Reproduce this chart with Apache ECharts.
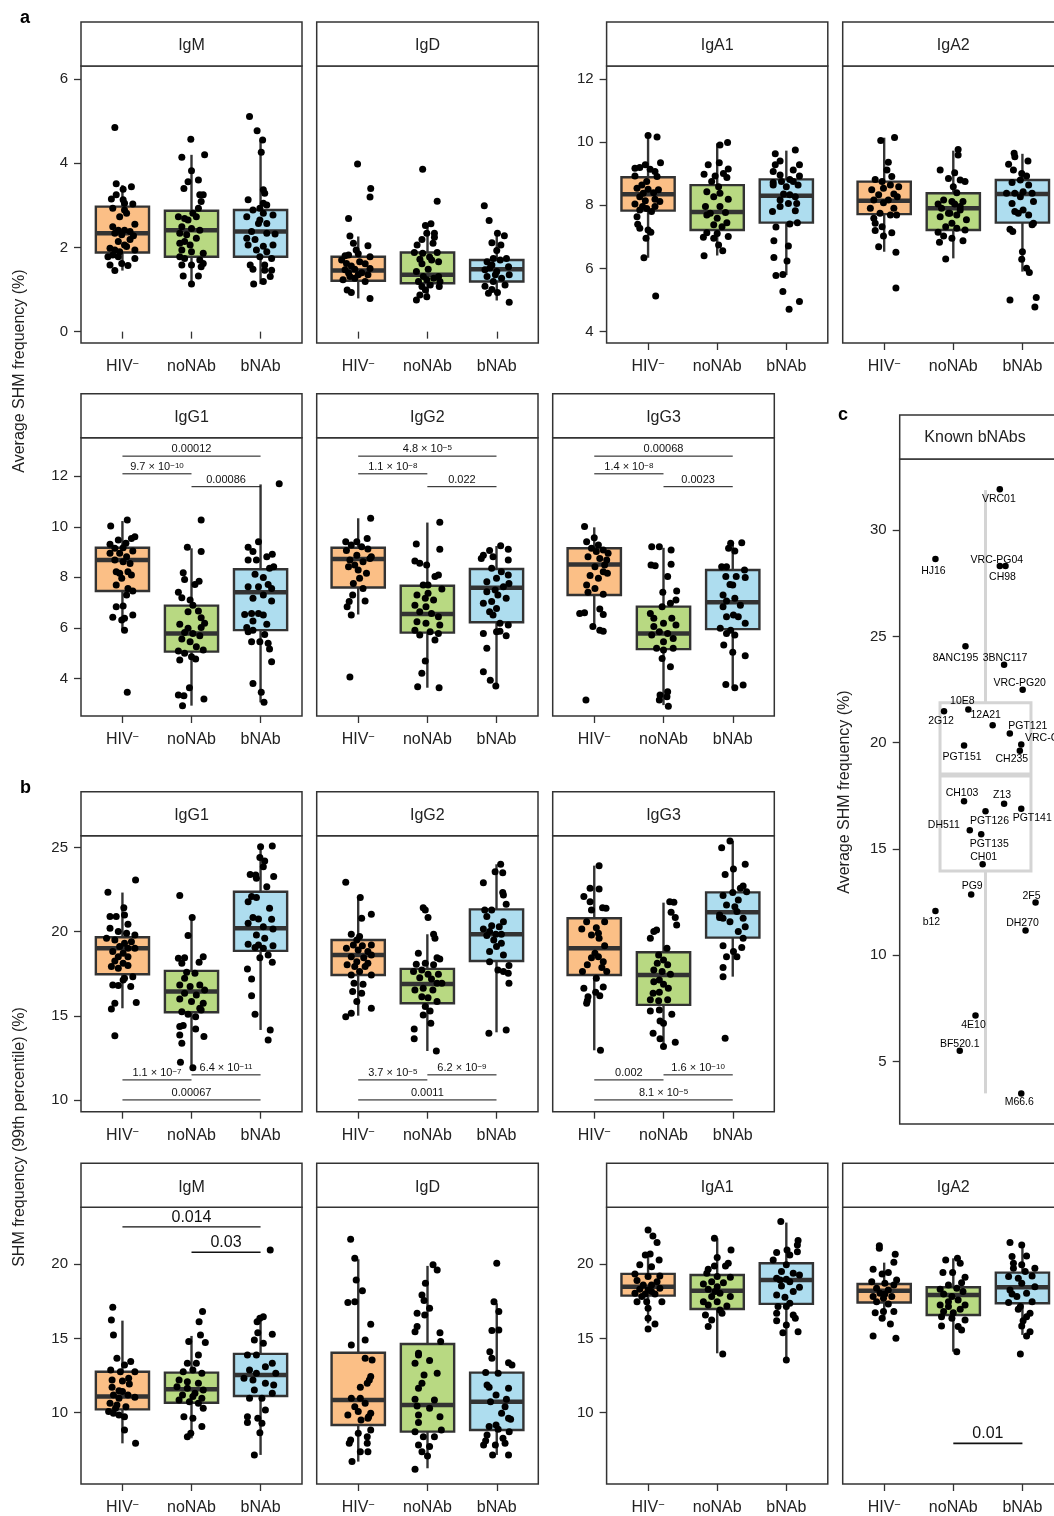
<!DOCTYPE html>
<html><head><meta charset="utf-8">
<script src="https://cdn.jsdelivr.net/npm/echarts@6/dist/echarts.min.js"></script>
<style>html,body{margin:0;padding:0;background:#fff}#c{width:1054px;height:1516px}</style>
</head><body><div id="c"></div>
<script>
// ---------------- DATA ----------------
const GROUPS = ['HIV', 'noNAb', 'bNAb'];
const GROUP_POS = [1, 2, 3];

// tick labels
const TICKS_A_TOP_L = [0, 2, 4, 6];
const TICKS_A_TOP_R = [4, 6, 8, 10, 12];
const TICKS_A_G = [4, 6, 8, 10, 12];
const TICKS_B_G = [10, 15, 20, 25];
const TICKS_B_BOT = [10, 15, 20];
const TICKS_C = [5, 10, 15, 20, 25, 30];

// box stats per group: [lower whisker, Q1, median, Q3, upper whisker]
const aIgM_box = [[1.45,1.88,2.34,2.97,3.48],[1.13,1.78,2.41,2.87,4.20],[1.13,1.78,2.38,2.89,4.55]];
const aIgD_box = [[0.79,1.21,1.45,1.78,2.26],[0.75,1.15,1.35,1.88,2.55],[0.74,1.19,1.48,1.70,2.34]];
const aIgA1_box = [[6.34,7.83,8.35,8.89,10.23],[6.41,7.22,7.79,8.64,9.96],[5.79,7.45,8.30,8.82,9.73]];
const aIgA2_box = [[6.53,7.72,8.14,8.75,10.14],[6.32,7.22,7.91,8.38,9.73],[5.90,7.45,8.36,8.80,9.63]];
const aIgG1_box = [[5.91,7.46,8.69,9.17,10.23],[2.92,5.06,5.78,6.88,9.15],[3.05,5.91,7.41,8.32,11.68]];
const aIgG2_box = [[6.53,7.60,8.73,9.17,10.34],[3.63,5.81,6.55,7.67,10.17],[3.67,6.22,7.59,8.33,9.24]];
const aIgG3_box = [[6.01,7.30,8.51,9.15,9.98],[2.94,5.16,5.78,6.84,9.17],[3.63,5.95,7.01,8.29,9.37]];
const bIgG1_box = [[15.45,17.47,19.02,19.67,22.33],[11.98,15.21,16.44,17.67,20.84],[14.16,18.86,20.21,22.38,25.06]];
const bIgG2_box = [[15.01,17.43,18.62,19.51,21.99],[12.91,15.75,16.90,17.79,19.85],[14.02,18.26,19.85,21.33,24.01]];
const bIgG3_box = [[12.95,17.43,19.02,20.80,23.93],[13.23,15.65,17.43,18.78,21.73],[17.33,19.65,21.16,22.34,25.40]];
const bIgM_box = [[7.93,10.22,11.08,12.76,16.20],[8.27,10.67,11.57,12.70,15.17],[7.15,11.12,12.54,13.96,16.47]];
const bIgD_box = [[6.70,9.17,10.85,14.04,20.34],[6.25,8.72,10.52,14.63,19.89],[7.15,8.83,10.74,12.70,17.37]];
const bIgA1_box = [[16.02,17.89,18.49,19.35,20.52],[14.00,16.99,18.22,19.28,21.75],[13.55,17.33,18.94,20.07,22.81]];
const bIgA2_box = [[16.25,17.42,18.22,18.67,20.11],[14.11,16.58,17.93,18.45,20.40],[15.24,17.37,18.45,19.44,21.30]];

// jittered donors per group: [jitter offset from group position, value]
const aIgM_pts = [
[[-0.11,4.85],[-0.09,3.51],[0.13,3.44],[0.01,3.38],[-0.09,3.25],[-0.16,3.15],[0.01,3.13],[0.03,3.05],[0.15,3.03],[-0.14,2.93],[0.03,2.89],[0.06,2.81],[-0.04,2.73],[-0.14,2.49],[0.18,2.55],[-0.06,2.41],[0.03,2.41],[0.11,2.38],[-0.11,2.34],[-0.01,2.30],[0.16,2.28],[0.11,2.19],[-0.06,2.14],[0.03,2.06],[0.06,2.02],[-0.18,1.98],[-0.11,1.94],[0.18,1.94],[-0.04,1.90],[-0.14,1.82],[-0.21,1.78],[-0.06,1.78],[0.18,1.74],[-0.18,1.58],[-0.01,1.62],[0.08,1.57],[-0.11,1.45]],
[[-0.01,4.57],[-0.14,4.14],[0.19,4.20],[0,3.82],[-0.05,3.56],[0.10,3.60],[-0.11,3.40],[0.17,3.25],[0.12,3.25],[0.14,3.09],[0.10,2.93],[0.02,2.81],[-0.19,2.73],[-0.10,2.69],[-0.05,2.65],[0.07,2.73],[-0.14,2.49],[0,2.45],[0.12,2.41],[-0.17,2.34],[-0.07,2.30],[0.07,2.22],[-0.17,2.10],[-0.10,2.14],[-0.02,2.06],[-0.14,1.94],[0,1.90],[0.17,1.86],[-0.17,1.78],[-0.10,1.74],[0.12,1.70],[-0.14,1.58],[0,1.58],[0.17,1.62],[0.14,1.54],[-0.12,1.32],[0.10,1.32],[0,1.13]],
[[-0.16,5.11],[-0.05,4.77],[0.03,4.55],[0.01,4.26],[0.04,3.37],[0.06,3.29],[-0.18,3.13],[0.04,3.05],[0.09,3.01],[-0.01,2.93],[-0.11,2.89],[0.04,2.81],[0.18,2.77],[-0.20,2.73],[-0.01,2.65],[-0.03,2.57],[0.09,2.57],[-0.13,2.38],[0.09,2.34],[0.21,2.32],[-0.20,2.22],[-0.08,2.19],[-0.18,2.06],[0.04,2.03],[0.18,2.06],[-0.06,1.94],[0.09,1.90],[-0.01,1.78],[0.16,1.74],[-0.15,1.58],[0.06,1.58],[-0.11,1.48],[0.06,1.46],[0.16,1.46],[0.14,1.31],[0.04,1.19],[-0.10,1.13]]];
const aIgD_pts = [
[[-0.01,3.98],[0.18,3.40],[0.17,3.20],[-0.14,2.69],[-0.12,2.27],[-0.07,2.10],[0.14,2.04],[-0.03,1.94],[-0.19,1.80],[-0.14,1.82],[0,1.85],[0.17,1.78],[-0.17,1.62],[0.02,1.66],[-0.10,1.56],[0.10,1.61],[-0.19,1.47],[-0.05,1.48],[0.17,1.50],[-0.14,1.39],[0.05,1.40],[0.14,1.35],[-0.22,1.23],[-0.05,1.27],[0.10,1.19],[-0.16,0.99],[-0.10,0.93],[0.17,0.79],[0,1.35],[-0.12,1.31],[-0.24,1.70]],
[[-0.07,3.86],[0.14,3.10],[-0.03,2.52],[0.05,2.56],[-0.01,2.34],[0.10,2.34],[-0.08,2.19],[0.10,2.24],[-0.15,2.06],[0.08,2.10],[-0.19,1.88],[-0.07,1.86],[0.14,1.88],[-0.11,1.72],[0.03,1.77],[0.16,1.66],[-0.08,1.61],[0.06,1.70],[-0.16,1.43],[0.01,1.48],[-0.06,1.31],[0.16,1.31],[-0.13,1.19],[-0.01,1.23],[0.09,1.27],[0.18,1.19],[-0.08,1.07],[0.04,1.11],[0.17,1.07],[-0.03,0.99],[-0.11,0.87],[-0.01,0.83],[-0.16,0.75]],
[[-0.18,2.99],[-0.11,2.64],[0.01,2.34],[0.11,2.28],[-0.07,2.11],[0.06,2.06],[0,1.93],[-0.05,1.74],[-0.14,1.66],[0.14,1.74],[0.05,1.70],[-0.07,1.58],[0.17,1.54],[-0.17,1.47],[0,1.43],[0.18,1.35],[-0.14,1.31],[0.07,1.27],[-0.05,1.19],[-0.17,1.08],[0.12,1.11],[-0.07,1.00],[-0.12,0.91],[0.01,0.93],[0.18,0.70],[-0.02,1.35],[-0.10,1.51]]];
const aIgA1_pts = [
[[0,10.21],[0.13,10.16],[0.18,9.35],[-0.19,9.17],[-0.12,9.20],[-0.04,9.28],[0.03,9.14],[0.10,9.07],[-0.19,8.93],[0.13,8.91],[-0.02,8.75],[-0.09,8.64],[-0.16,8.54],[0,8.51],[0.15,8.49],[-0.07,8.38],[0.08,8.40],[0.17,8.12],[-0.12,8.27],[-0.19,8.04],[-0.04,8.14],[0.10,8.19],[-0.02,7.90],[-0.08,7.96],[0.10,7.96],[0.05,7.80],[-0.16,7.64],[-0.15,7.40],[-0.12,7.27],[0,7.22],[0.04,7.15],[-0.03,6.96],[-0.06,6.34],[0.11,5.13],[-0.12,7.85]],
[[0.15,9.99],[0.04,9.91],[0.03,9.35],[-0.13,9.28],[0.16,9.15],[0.09,9.01],[-0.19,8.98],[-0.03,8.93],[0.14,8.88],[-0.08,8.75],[0.02,8.59],[-0.15,8.43],[0.04,8.38],[0.16,8.19],[-0.05,8.27],[-0.17,7.96],[0.04,7.96],[-0.10,7.75],[0.12,7.77],[-0.15,7.69],[0,7.59],[0.14,7.45],[-0.05,7.38],[0.07,7.32],[-0.15,7.13],[0,7.11],[0.16,7.01],[-0.20,6.99],[-0.05,6.96],[0.02,6.74],[0.08,6.56],[-0.19,6.40]],
[[0.13,9.75],[-0.16,9.63],[-0.09,9.40],[-0.16,9.28],[0.19,9.28],[0.10,9.12],[-0.19,9.07],[-0.09,8.96],[0.19,8.93],[0.05,8.82],[-0.19,8.72],[-0.07,8.75],[0.10,8.75],[0.17,8.64],[0,8.59],[-0.19,8.64],[0.05,8.33],[-0.04,8.36],[0.13,8.27],[-0.09,8.17],[0.03,8.06],[0.15,8.06],[-0.09,7.96],[0.13,7.83],[-0.20,7.80],[0.05,7.41],[0.16,7.45],[-0.15,7.31],[-0.18,6.88],[0.03,6.71],[-0.18,6.35],[0.01,6.24],[-0.15,5.78],[-0.05,5.81],[-0.05,5.27],[0.04,4.71],[0.19,4.95]]];
const aIgA2_pts = [
[[0.15,10.15],[-0.05,10.05],[0.06,9.36],[0.04,9.12],[0.11,8.91],[-0.13,8.82],[-0.03,8.75],[0.09,8.64],[0.21,8.59],[-0.18,8.49],[-0.01,8.54],[0.14,8.36],[-0.08,8.33],[0.06,8.17],[0.19,8.27],[-0.15,8.17],[-0.01,8.08],[-0.20,7.91],[0.14,7.91],[-0.06,7.75],[0.09,7.69],[0.18,7.69],[-0.15,7.59],[-0.13,7.43],[-0.03,7.32],[-0.13,7.20],[0.11,7.13],[-0.01,7.03],[-0.08,6.69],[0.17,6.51],[0.17,5.38]],
[[0.07,9.77],[0.07,9.59],[-0.19,9.12],[0.02,9.03],[-0.07,8.85],[0.10,8.80],[0.17,8.75],[0,8.59],[0.05,8.40],[-0.14,8.17],[-0.02,8.12],[0.14,8.12],[-0.22,8.04],[0.02,8.04],[-0.17,7.91],[0.10,7.85],[-0.07,7.75],[0.05,7.69],[-0.19,7.64],[0.19,7.54],[-0.02,7.43],[-0.11,7.32],[0.05,7.27],[-0.22,7.15],[0.17,7.22],[-0.14,7.03],[-0.02,6.96],[0.14,6.88],[-0.20,6.83],[-0.11,6.30],[-0.05,7.75],[0.10,7.96]],
[[-0.12,9.65],[-0.11,9.54],[0.08,9.40],[-0.20,9.30],[-0.13,9.12],[-0.01,9.01],[0.06,8.93],[-0.03,8.80],[-0.15,8.72],[0.09,8.64],[-0.11,8.38],[0.01,8.43],[0.14,8.38],[-0.03,8.27],[-0.15,8.06],[0.16,8.12],[0.01,7.85],[-0.11,7.80],[0.09,7.69],[-0.06,7.75],[0.14,7.38],[-0.18,7.24],[-0.14,7.17],[0,6.53],[-0.01,6.29],[0.06,6.01],[0.10,5.87],[-0.18,5.00],[0.20,5.08],[0.18,4.78],[0.16,7.43],[-0.23,8.38]]];
const aIgG1_pts = [
[[0.07,10.27],[-0.17,10.03],[0.18,9.61],[0.13,9.54],[-0.18,9.31],[-0.06,9.48],[0.05,9.35],[-0.11,9.15],[0.01,9.17],[0.15,9.04],[-0.18,8.95],[-0.04,8.95],[0.06,8.82],[-0.11,8.69],[0.01,8.62],[0.11,8.55],[-0.09,8.22],[-0.04,8.16],[0.08,8.22],[0.13,8.09],[-0.01,7.96],[-0.09,7.70],[0.08,7.56],[0.15,7.46],[0.06,7.30],[-0.09,6.84],[0.01,6.87],[-0.14,6.42],[0.15,6.51],[-0.01,6.31],[0.03,6.38],[0.03,5.91],[0.07,3.45]],
[[0.14,10.27],[-0.06,9.19],[0.14,9.02],[-0.12,8.18],[-0.10,7.92],[0.11,7.85],[0.05,7.72],[-0.19,7.41],[-0.14,7.19],[-0.02,7.10],[0.02,6.90],[0.10,6.67],[-0.05,6.64],[0.14,6.40],[0.19,6.18],[-0.17,6.14],[0.14,6.01],[-0.10,5.82],[0.02,5.78],[0.12,5.69],[-0.14,5.56],[-0.02,5.45],[0.07,5.25],[0.17,5.12],[-0.19,5.08],[-0.10,4.99],[0,4.86],[-0.17,4.73],[0.06,4.77],[-0.03,3.63],[-0.19,3.34],[-0.11,3.31],[0.18,3.18],[-0.13,2.92],[-0.05,5.98]],
[[0.27,11.71],[-0.03,9.41],[-0.18,9.19],[-0.11,9.02],[0.17,8.91],[0.09,8.82],[-0.18,8.69],[-0.06,8.69],[0.19,8.42],[0.13,8.36],[-0.08,8.12],[0.04,7.99],[-0.18,7.63],[-0.03,7.63],[0.11,7.72],[0.16,7.56],[0.04,7.30],[-0.11,7.17],[0.16,7.06],[-0.23,6.53],[-0.03,6.57],[-0.13,6.57],[0.04,6.51],[-0.11,6.27],[0.09,6.14],[-0.20,6.01],[-0.11,5.91],[0.06,5.74],[-0.13,5.45],[-0.01,5.45],[0.11,5.39],[0.13,5.16],[0.16,4.66],[-0.11,3.80],[0.01,3.45],[0.05,3.05],[-0.18,5.85]]];
const aIgG2_pts = [
[[0.18,10.34],[0.13,9.54],[-0.18,9.41],[-0.02,9.41],[-0.10,9.28],[0.05,9.21],[0.14,9.12],[-0.17,9.06],[-0.02,8.88],[0.19,8.82],[-0.12,8.69],[0.07,8.62],[-0.14,8.42],[-0.05,8.49],[0,8.29],[0.12,8.16],[0.02,7.96],[-0.07,7.76],[0.07,7.56],[-0.08,7.30],[-0.13,7.04],[0.10,7.06],[-0.16,6.84],[-0.10,6.51],[-0.12,4.05],[0.17,8.75]],
[[0.18,10.18],[-0.16,9.32],[0.18,9.11],[-0.18,8.65],[-0.11,8.56],[-0.01,8.49],[0.16,8.09],[0.11,8.03],[-0.06,7.70],[0.01,7.70],[0.21,7.54],[-0.15,7.30],[-0.03,7.17],[0.09,7.10],[-0.18,6.90],[-0.02,6.84],[-0.11,6.64],[0.06,6.57],[0.16,6.44],[-0.15,6.24],[-0.02,6.18],[0.18,6.11],[-0.18,5.91],[0.04,5.85],[0.16,5.78],[-0.11,5.72],[0.11,5.52],[-0.03,4.69],[-0.08,4.20],[-0.14,3.67],[0.17,3.63],[0.01,7.37]],
[[0.06,9.25],[-0.10,9.06],[0.17,9.11],[-0.19,8.88],[-0.05,8.82],[0.17,8.69],[-0.22,8.75],[-0.07,8.36],[0.07,8.22],[0.17,8.09],[0,7.96],[-0.14,7.83],[0.18,7.76],[0.10,7.63],[-0.02,7.50],[-0.14,7.43],[0.02,7.30],[0.14,7.17],[-0.07,7.04],[-0.19,6.97],[0,6.77],[-0.10,6.64],[-0.05,6.51],[0.05,6.18],[0.17,6.11],[-0.19,5.78],[0,5.85],[0.05,5.87],[0.14,5.69],[-0.14,5.19],[-0.19,4.26],[-0.09,3.93],[-0.01,3.70]]];
const aIgG3_pts = [
[[-0.14,10.01],[0,9.57],[-0.11,9.41],[0.06,9.28],[-0.04,9.15],[0.13,9.08],[0.20,8.95],[0.03,9.02],[-0.09,8.82],[0.08,8.75],[0.18,8.69],[0.01,8.42],[0.13,8.22],[-0.06,8.07],[0.19,8.16],[0.06,7.96],[-0.11,7.70],[0.01,7.56],[-0.09,7.41],[0.13,7.33],[0.08,6.75],[0.13,6.53],[-0.21,6.57],[-0.14,6.60],[-0.02,6.05],[0.08,5.91],[0.13,5.87],[-0.12,3.14],[0.15,8.49]],
[[-0.17,9.21],[-0.06,9.21],[0.11,9.08],[-0.18,8.49],[-0.12,8.46],[0.11,8.52],[0.06,8.03],[-0.01,7.41],[0.19,7.46],[0.18,7.10],[0.10,6.97],[-0.19,6.57],[-0.02,6.84],[-0.14,6.38],[0.12,6.38],[0,6.18],[0.18,6.11],[-0.14,6.05],[-0.06,5.85],[0.06,5.78],[-0.17,5.72],[0.14,5.58],[-0.10,5.19],[0,5.12],[0.14,5.19],[-0.02,4.79],[0.10,4.46],[0.06,3.47],[-0.05,3.34],[0.05,3.27],[-0.06,3.14],[0.07,2.90],[0,5.45]],
[[-0.03,9.35],[0.13,9.37],[-0.06,9.15],[0.03,9.04],[-0.16,8.42],[-0.09,8.42],[0.17,8.29],[-0.10,8.03],[0.05,8.03],[0.18,7.99],[-0.04,7.72],[0,7.70],[-0.14,7.30],[0.03,7.17],[-0.09,7.06],[0.11,6.90],[0.01,6.51],[-0.09,6.44],[0.08,6.44],[0.18,6.18],[-0.18,5.98],[-0.03,5.91],[-0.09,5.78],[0.03,5.72],[-0.13,5.32],[0,5.03],[0.18,4.90],[-0.10,3.76],[0.03,3.63],[0.15,3.74],[-0.14,6.84]]];
const bIgG1_pts = [
[[0.19,23.08],[-0.21,22.35],[0.02,21.43],[0.03,20.99],[-0.18,20.90],[-0.09,20.90],[0.08,20.44],[-0.18,20.20],[-0.06,20.01],[0.06,19.91],[0.18,19.81],[-0.23,19.61],[-0.11,19.51],[0.03,19.31],[0.13,19.41],[-0.04,19.12],[0.08,19.02],[0.18,19.02],[-0.14,18.82],[0.01,18.72],[-0.06,18.52],[0.08,18.52],[-0.11,18.26],[0.01,18.12],[-0.16,17.93],[0.08,17.99],[-0.06,17.83],[0.15,17.33],[0.03,17.23],[-0.14,16.84],[-0.06,16.80],[0.12,16.74],[0.01,17.13],[-0.11,15.75],[0.20,15.79],[-0.16,15.41],[-0.11,13.81]],
[[-0.17,22.15],[0.01,20.84],[-0.05,19.77],[-0.19,18.42],[-0.10,18.46],[0.17,18.52],[-0.14,18.12],[0.11,18.18],[-0.07,17.59],[0.05,17.53],[-0.10,17.23],[-0.17,16.84],[-0.02,16.74],[0.12,16.84],[0.19,16.54],[-0.10,16.34],[0.07,16.24],[-0.17,16.00],[0,15.85],[0.17,15.75],[-0.14,15.25],[0.12,15.45],[-0.05,15.09],[0.06,14.95],[-0.17,14.36],[-0.12,14.42],[0.06,14.22],[0.18,13.77],[-0.17,13.86],[-0.14,13.37],[-0.16,12.24],[0.02,11.92],[0.14,15.35]],
[[0.17,25.10],[0,25.06],[0.06,24.21],[-0.01,24.41],[0.04,23.87],[-0.15,23.41],[-0.07,23.38],[0.19,23.28],[-0.06,23.18],[0.09,22.68],[-0.13,22.09],[-0.06,22.03],[-0.18,21.79],[0.13,21.39],[-0.11,20.84],[-0.03,20.76],[0.16,20.74],[-0.18,20.50],[0.04,20.30],[0.18,20.17],[-0.06,19.81],[0.06,19.61],[-0.18,19.25],[-0.08,19.06],[0.18,19.17],[0.04,19.02],[0.11,18.62],[-0.01,18.46],[0.17,18.18],[-0.19,17.79],[-0.13,17.19],[-0.13,16.20],[-0.08,15.09],[0.14,14.16],[0.11,13.57],[-0.03,19.21]]];
const bIgG2_pts = [
[[-0.18,22.94],[0.03,22.03],[0.19,21.04],[0.05,20.80],[-0.10,19.85],[0.02,19.71],[-0.02,19.51],[-0.07,19.21],[0.06,19.17],[0.19,19.21],[-0.17,19.02],[0,18.92],[0.14,18.82],[-0.10,18.52],[0.08,18.46],[0.19,18.62],[-0.02,18.22],[-0.16,18.03],[-0.05,17.93],[0.10,17.93],[0.02,17.63],[-0.10,17.43],[0.19,17.43],[-0.06,16.94],[0.07,16.88],[-0.08,16.44],[0.05,16.34],[-0.02,15.85],[0.19,15.45],[-0.18,14.95],[-0.10,15.15],[0.14,18.12]],
[[-0.06,21.43],[-0.03,21.29],[0.01,20.84],[0.09,19.85],[0.11,19.61],[-0.13,18.72],[0.14,18.46],[0.18,18.38],[-0.03,18.12],[-0.16,18.07],[0.09,18.03],[-0.20,17.63],[-0.08,17.73],[0.01,17.47],[0.16,17.47],[-0.11,17.27],[0.06,17.19],[0.14,16.94],[-0.18,16.54],[-0.06,16.64],[0.08,16.54],[-0.08,16.14],[0.01,16.08],[0.14,15.85],[-0.03,15.55],[0.04,15.29],[-0.06,15.05],[0.05,14.56],[-0.19,14.22],[-0.19,13.63],[0.13,12.91],[0.21,16.94]],
[[0.06,24.01],[-0.02,23.57],[0.09,23.51],[-0.19,22.92],[0.09,22.34],[0.10,22.19],[0.14,21.63],[-0.17,21.29],[-0.07,21.29],[-0.14,20.90],[0.10,20.60],[-0.07,20.36],[0.04,20.30],[-0.19,20.17],[-0.10,20.01],[-0.01,19.85],[0.07,19.85],[-0.14,19.77],[-0.04,19.51],[0.07,19.31],[0,19.12],[-0.10,18.82],[0.10,18.62],[-0.10,18.22],[0.02,17.73],[0.10,17.63],[0.18,17.99],[0.17,17.53],[0.18,16.94],[-0.11,13.96],[0.14,14.16]]];
const bIgG3_pts = [
[[0.07,23.93],[-0.06,22.58],[0.07,22.54],[-0.15,22.09],[-0.06,21.79],[-0.04,21.29],[0.12,21.43],[0.17,21.39],[-0.11,20.60],[0.15,20.60],[0.03,20.24],[-0.18,20.17],[0.06,19.91],[-0.04,19.81],[0.07,19.61],[0.15,19.17],[0.01,18.72],[0.06,18.52],[-0.04,18.46],[0.13,18.22],[-0.10,18.03],[0.11,17.87],[0.18,17.63],[-0.17,17.63],[0.03,17.23],[0.13,16.72],[-0.15,16.64],[0.02,16.40],[-0.09,16.14],[0.08,16.20],[-0.11,15.75],[-0.10,15.89],[0.09,12.95]],
[[0.09,21.79],[0.15,21.75],[0.11,21.16],[0.17,20.84],[0.19,20.40],[-0.10,20.11],[-0.14,20.01],[-0.19,19.61],[0.05,19.02],[-0.07,18.62],[0,18.32],[0.06,18.03],[-0.09,18.12],[-0.14,17.73],[-0.02,17.63],[0.10,17.47],[-0.06,17.13],[-0.14,17.03],[0,16.88],[-0.15,16.34],[-0.06,16.40],[0.07,16.64],[-0.19,15.95],[-0.07,15.89],[0.06,15.95],[-0.19,15.29],[-0.06,15.35],[0.12,15.09],[-0.05,14.70],[0,14.56],[-0.15,13.96],[-0.05,13.63],[0.17,13.43],[0,13.17]],
[[-0.04,25.40],[-0.16,25.00],[0.18,24.01],[0.01,23.73],[-0.11,23.41],[0.15,22.72],[0.11,22.58],[-0.14,22.15],[0,22.34],[0.20,22.38],[0.08,21.89],[-0.09,21.59],[0.03,21.49],[-0.19,21.00],[-0.14,20.80],[0.15,20.80],[0.06,21.20],[-0.04,20.60],[0.18,20.30],[0.08,20.01],[0.15,19.61],[-0.14,19.17],[0.13,19.06],[0.01,18.82],[-0.09,18.52],[0.06,18.52],[-0.14,17.87],[-0.14,17.33],[-0.11,13.67],[-0.19,20.84]]];
const bIgM_pts = [
[[-0.14,17.10],[-0.16,16.25],[-0.13,15.24],[-0.08,13.66],[0.12,13.44],[0.03,13.21],[-0.17,12.88],[-0.03,12.76],[0.18,12.76],[0.09,12.31],[-0.15,12.20],[0,12.13],[0.10,11.93],[-0.15,11.71],[-0.05,11.48],[-0.13,11.19],[0.08,11.19],[0.18,11.03],[-0.05,10.97],[-0.18,10.63],[-0.08,10.52],[0.05,10.40],[-0.20,10.07],[-0.13,9.96],[-0.05,9.84],[0.03,9.73],[0.03,8.83],[0.19,7.93],[-0.10,10.29],[0,11.42]],
[[0.16,16.81],[0.11,16.13],[0.13,15.24],[-0.04,14.79],[0.20,14.72],[0.10,13.89],[-0.06,13.33],[0.07,13.33],[-0.12,12.76],[0.02,12.88],[0.15,12.65],[-0.18,12.20],[-0.06,12.09],[0.10,11.98],[-0.21,11.75],[-0.06,11.64],[0.17,11.53],[-0.13,11.19],[0.02,11.08],[0.15,10.97],[-0.18,10.85],[-0.03,10.74],[0.10,10.63],[0.17,10.29],[-0.11,9.73],[0.02,9.62],[0.15,9.06],[-0.06,8.38],[-0.01,8.61],[0.05,11.30]],
[[0.14,20.97],[0.04,16.47],[-0.01,16.36],[-0.05,16.13],[0.17,15.28],[-0.04,15.39],[-0.09,14.90],[0.04,14.67],[-0.19,13.89],[-0.06,13.89],[0.07,13.10],[0.17,13.33],[-0.16,12.88],[-0.06,12.65],[-0.24,12.31],[0.22,12.65],[-0.11,12.20],[0.07,11.98],[-0.09,11.53],[0.17,11.30],[-0.16,10.97],[0.02,10.97],[0.07,10.18],[-0.19,9.73],[-0.04,9.62],[-0.19,9.33],[0.02,9.28],[-0.01,8.65],[-0.09,7.15],[0.19,11.87]]];
const bIgD_pts = [
[[-0.11,21.69],[-0.05,20.40],[-0.03,18.94],[0.06,18.22],[-0.15,17.42],[-0.05,17.48],[0.18,15.96],[-0.10,14.56],[0.10,14.90],[0.10,13.66],[0.20,13.55],[0.18,12.43],[0.16,12.20],[0.13,11.98],[0.03,11.71],[-0.10,10.97],[0.03,10.97],[-0.05,10.40],[0.10,10.63],[-0.15,9.84],[0,10.07],[0.18,9.96],[0.04,9.51],[0.14,9.62],[0.18,8.83],[0,8.61],[0.13,8.38],[-0.11,8.16],[-0.13,7.93],[0.13,7.93],[0.03,7.37],[0.14,7.37],[-0.09,6.70],[0.15,9.73]],
[[0.08,19.96],[0.14,19.62],[-0.03,18.72],[-0.08,17.93],[-0.05,17.55],[0.03,17.03],[-0.15,16.70],[-0.04,16.58],[-0.15,15.80],[0.18,15.39],[-0.18,15.46],[0.19,14.79],[-0.13,14.00],[-0.13,13.89],[0.03,13.51],[-0.18,13.33],[-0.05,12.54],[0.14,12.65],[-0.13,11.64],[-0.08,11.98],[-0.18,10.90],[0.10,10.85],[0.03,10.29],[-0.15,10.45],[-0.13,9.84],[0.18,9.73],[-0.13,9.33],[0.20,8.83],[-0.18,8.72],[-0.06,8.38],[-0.13,7.82],[0.03,7.71],[-0.08,7.37],[0,7.08],[-0.18,6.18],[0.10,8.38]],
[[0,20.07],[-0.04,17.48],[0.03,16.81],[-0.07,15.53],[0.03,15.57],[-0.10,14.11],[-0.07,13.66],[0.17,13.37],[0.22,13.21],[-0.16,12.70],[0.02,12.65],[-0.14,11.87],[-0.11,11.71],[0.17,11.64],[-0.01,11.19],[0.14,10.90],[-0.09,10.74],[0.12,10.40],[0.07,9.96],[0.17,9.62],[0.20,9.55],[-0.01,9.17],[-0.11,9.06],[0.18,8.72],[0.02,8.88],[-0.14,8.49],[-0.16,8.11],[0.09,8.27],[-0.19,7.82],[-0.02,7.82],[0.12,7.93],[-0.06,7.15],[0.17,7.15]]];
const bIgA1_pts = [
[[0,22.31],[0.07,21.91],[0.13,21.46],[-0.04,20.63],[0.03,20.70],[-0.12,19.96],[0.16,20.29],[0.05,19.84],[-0.19,19.35],[0,19.17],[0.17,19.21],[-0.16,18.90],[0.13,18.83],[-0.07,18.61],[0.05,18.61],[-0.12,18.31],[0,18.27],[0.17,18.38],[-0.19,18.04],[-0.04,17.99],[0.10,17.99],[-0.16,17.48],[-0.02,17.48],[0.20,17.48],[-0.09,17.82],[0,17.03],[0,16.36],[0.10,15.98],[0,15.64],[0.05,18.16]],
[[-0.04,21.75],[0.20,20.97],[0,20.45],[0.16,20.07],[-0.13,19.66],[-0.04,19.89],[0.12,19.89],[-0.15,19.39],[0.19,19.12],[0,19.17],[-0.08,18.83],[0.09,18.76],[-0.20,18.67],[0,18.49],[-0.13,18.31],[0.04,18.04],[0.19,17.82],[-0.08,17.82],[-0.20,17.48],[0,17.48],[-0.13,17.26],[0.14,17.19],[0.04,16.92],[-0.17,16.58],[-0.08,16.25],[-0.13,15.80],[0.07,16.70],[0.08,13.96],[-0.03,18.16]],
[[-0.08,22.88],[0.17,21.60],[0.16,21.30],[0.01,20.97],[0.16,20.85],[-0.14,20.79],[0.05,20.63],[-0.19,20.29],[0,19.96],[-0.07,19.51],[0.10,19.39],[0.19,19.28],[-0.14,19.06],[0,18.99],[0.05,18.83],[-0.07,18.54],[0.19,18.45],[0.10,18.16],[-0.14,17.93],[-0.02,17.78],[0.05,17.37],[-0.12,17.15],[0,17.15],[0.10,16.58],[-0.14,16.70],[0.13,16.36],[-0.14,16.20],[0,15.91],[0.17,15.46],[-0.05,15.39],[0,13.55],[-0.09,18.94]]];
const bIgA2_pts = [
[[-0.07,21.24],[-0.07,21.08],[0.16,20.67],[0.14,20.13],[-0.16,19.66],[0.06,19.44],[-0.03,19.35],[0.18,18.94],[-0.18,18.83],[0.01,18.72],[0.14,18.61],[-0.11,18.38],[0.06,18.27],[-0.06,18.04],[-0.16,17.82],[-0.01,17.71],[0.11,17.82],[-0.11,17.48],[0.06,17.33],[-0.13,16.74],[-0.01,16.81],[0.14,16.81],[-0.03,16.36],[0.09,15.98],[-0.16,15.17],[0.17,15.01],[0.01,18.00]],
[[-0.11,20.29],[0.06,20.40],[0.10,20.07],[-0.15,19.44],[-0.01,19.44],[0.17,19.12],[0.12,18.76],[-0.07,18.61],[-0.19,18.31],[0.05,18.38],[0.14,18.16],[-0.14,18.00],[-0.02,17.82],[0.07,17.60],[-0.19,17.26],[-0.07,17.15],[0.17,17.26],[-0.14,16.81],[0,16.74],[0.10,16.97],[-0.17,16.47],[-0.02,16.36],[0.17,16.25],[-0.17,15.84],[0.07,15.80],[0.12,15.57],[0.05,14.11],[-0.07,17.48]],
[[-0.18,21.46],[-0.01,21.30],[-0.15,20.52],[0.06,20.56],[-0.13,20.07],[-0.01,19.96],[-0.13,19.73],[0.18,19.73],[0.04,19.51],[-0.20,19.17],[-0.06,19.06],[0.14,19.21],[-0.01,18.72],[0.18,18.49],[-0.18,18.27],[0.06,18.04],[-0.08,17.82],[0.14,17.48],[-0.20,17.42],[-0.03,17.15],[0.11,16.70],[-0.06,16.97],[0.06,16.47],[0.01,16.20],[-0.01,15.84],[0.11,15.46],[0.06,15.17],[-0.03,13.96],[-0.15,18.00]]];

// significance brackets: [from group, to group, y value, label]
const aIgG1_br = [[1,3,12.80,'0.00012'],[1,2,12.10,'9.7 × 10^−10'],[2,3,11.59,'0.00086']];
const aIgG2_br = [[1,3,12.80,'4.8 × 10^−5'],[1,2,12.10,'1.1 × 10^−8'],[2,3,11.59,'0.022']];
const aIgG3_br = [[1,3,12.80,'0.00068'],[1,2,12.10,'1.4 × 10^−8'],[2,3,11.59,'0.0023']];
const bIgG1_br = [[1,2,11.19,'1.1 × 10^−7'],[2,3,11.49,'6.4 × 10^−11'],[1,3,10.0,'0.00067']];
const bIgG2_br = [[1,2,11.19,'3.7 × 10^−5'],[2,3,11.49,'6.2 × 10^−9'],[1,3,10.0,'0.0011']];
const bIgG3_br = [[1,2,11.19,'0.002'],[2,3,11.49,'1.6 × 10^−10'],[1,3,10.0,'8.1 × 10^−5']];
const bIgM_br = [[1,3,22.52,'0.014'],[2,3,20.81,'0.03']];
const bIgA2_br = [[2,3,7.93,'0.01']];

// panel c: known bNAbs
const cNames = ['VRC01','HJ16','VRC-PG04','CH98','8ANC195','3BNC117','VRC-PG20','10E8','2G12','12A21','PGT121','VRC-CH31','CH235','PGT151','CH103','Z13','PGT141','PGT126','DH511','PGT135','CH01','PG9','2F5','b12','DH270','4E10','BF520.1','M66.6'];
const cJitter = [1.10,0.65,1.10,1.14,0.86,1.13,1.26,0.88,0.71,1.05,1.17,1.25,1.24,0.85,0.85,1.13,1.25,1.00,0.89,0.97,0.98,0.90,1.35,0.65,1.28,0.93,0.82,1.25];
const cValues = [31.92,28.64,28.31,28.31,24.53,23.66,22.49,21.56,21.48,20.82,20.43,19.91,19.62,19.87,17.25,17.13,16.89,16.78,15.88,15.70,14.28,12.86,12.48,12.08,11.17,7.17,5.52,3.50];
const cBox = [3.51, 13.97, 18.48, 21.88, 31.88];

// ---------------- LAYOUT / STYLE ----------------
const cLabelOffset = [[-1,10],[-2,12],[-3,-6],[-3,11],[-10,12],[1,-7],[-3,-7],[-6,-8],[-3,10],[-7,-10],[18,-7],[30,-6],[-8,8],[-2,12],[-2,-8],[-2,-9],[11,9],[4,10],[-26,-5],[8,10],[1,-7],[1,-8],[-4,-7],[-4,11],[-3,-7],[-2,10],[0,-7],[-2,9]];
const FONT = '"Liberation Sans", Arial, Helvetica, sans-serif';
const FILLS = ['#FBBF86', '#B8D982', '#AEDDEF'];
const INK = '#222';
const BOX_HALF = 0.385;

const PANELS = [
  {title:'IgM',  box:aIgM_box,  pts:aIgM_pts,  x:81,    y:66,    w:221,   h:277,   ymin:-0.27, ymax:6.31,  ticks:TICKS_A_TOP_L},
  {title:'IgD',  box:aIgD_box,  pts:aIgD_pts,  x:316.7, y:66,    w:221.6, h:277,   ymin:-0.27, ymax:6.31,  ticks:null},
  {title:'IgA1', box:aIgA1_box, pts:aIgA1_pts, x:606.6, y:66,    w:221.2, h:277,   ymin:3.64,  ymax:12.41, ticks:TICKS_A_TOP_R},
  {title:'IgA2', box:aIgA2_box, pts:aIgA2_pts, x:842.7, y:66,    w:221.2, h:277,   ymin:3.64,  ymax:12.41, ticks:null},
  {title:'IgG1', box:aIgG1_box, pts:aIgG1_pts, br:aIgG1_br, brF:11, brW:1, x:81,    y:437.7, w:221,   h:278.3, ymin:2.51, ymax:13.53, ticks:TICKS_A_G},
  {title:'IgG2', box:aIgG2_box, pts:aIgG2_pts, br:aIgG2_br, brF:11, brW:1, x:316.7, y:437.7, w:221.3, h:278.3, ymin:2.51, ymax:13.53, ticks:null},
  {title:'IgG3', box:aIgG3_box, pts:aIgG3_pts, br:aIgG3_br, brF:11, brW:1, x:552.7, y:437.7, w:221.6, h:278.3, ymin:2.51, ymax:13.53, ticks:null},
  {title:'IgG1', box:bIgG1_box, pts:bIgG1_pts, br:bIgG1_br, brF:11, brW:1, x:81,    y:835.7, w:221,   h:276,   ymin:9.30, ymax:25.71, ticks:TICKS_B_G},
  {title:'IgG2', box:bIgG2_box, pts:bIgG2_pts, br:bIgG2_br, brF:11, brW:1, x:316.7, y:835.7, w:221.3, h:276,   ymin:9.30, ymax:25.71, ticks:null},
  {title:'IgG3', box:bIgG3_box, pts:bIgG3_pts, br:bIgG3_br, brF:11, brW:1, x:552.7, y:835.7, w:221.6, h:276,   ymin:9.30, ymax:25.71, ticks:null},
  {title:'IgM',  box:bIgM_box,  pts:bIgM_pts,  br:bIgM_br,  brF:16, brW:1.4, x:81,  y:1207.3, w:221,  h:276.7, ymin:5.19, ymax:23.84, ticks:TICKS_B_BOT},
  {title:'IgD',  box:bIgD_box,  pts:bIgD_pts,  x:316.7, y:1207.3, w:221.6, h:276.7, ymin:5.19, ymax:23.84, ticks:null},
  {title:'IgA1', box:bIgA1_box, pts:bIgA1_pts, x:606.6, y:1207.3, w:221.2, h:276.7, ymin:5.19, ymax:23.84, ticks:TICKS_B_BOT},
  {title:'IgA2', box:bIgA2_box, pts:bIgA2_pts, br:bIgA2_br, brF:16, brW:1.8, x:842.7, y:1207.3, w:221.2, h:276.7, ymin:5.19, ymax:23.84, ticks:null}
];
const STRIP_H = 44;

function brText(s) {
  const k = s.indexOf('^');
  return k < 0 ? '{n|' + s + '}' : '{n|' + s.slice(0, k) + '}{s|' + s.slice(k + 1) + '}';
}
function xLabel(v) {
  const i = GROUP_POS.indexOf(Math.round(v));
  if (i === 0) return '{m|HIV}{s|−}';
  return '{m|' + GROUPS[i] + '}';
}

const grids = [], xAxes = [], yAxes = [], series = [], gfx = [];

PANELS.forEach((p, i) => {
  grids.push({left:p.x, top:p.y, width:p.w, height:p.h, show:true, borderColor:'#333', borderWidth:1.5, backgroundColor:'rgba(0,0,0,0)', containLabel:false, outerBoundsMode:'none'});
  xAxes.push({
    type:'value', gridIndex:i, min:0.4, max:3.6,
    splitLine:{show:false}, axisLine:{show:false},
    axisTick:{show:true, customValues:GROUP_POS, length:7, lineStyle:{color:'#333', width:1.3}},
    axisLabel:{show:true, customValues:GROUP_POS, margin:15, formatter:xLabel, fontFamily:FONT, color:INK, fontSize:16,
      rich:{m:{fontSize:16, fontFamily:FONT, color:INK, lineHeight:18}, s:{fontSize:11, fontFamily:FONT, color:INK, verticalAlign:'top', lineHeight:10}}}
  });
  yAxes.push({
    type:'value', gridIndex:i, min:p.ymin, max:p.ymax,
    splitLine:{show:false}, axisLine:{show:false},
    axisTick:{show:!!p.ticks, customValues:p.ticks || [], length:7, lineStyle:{color:'#333', width:1.3}},
    axisLabel:{show:!!p.ticks, customValues:p.ticks || [], margin:13, fontSize:15, fontFamily:FONT, color:INK}
  });
  series.push({
    type:'custom', xAxisIndex:i, yAxisIndex:i, z:2, silent:true,
    encode:{x:0, y:[1,2,3,4,5]},
    data:p.box.map((s, g) => [GROUP_POS[g]].concat(s)),
    renderItem:(params, api) => {
      const x = api.value(0), lo = api.value(1), q1 = api.value(2), md = api.value(3), q3 = api.value(4), hi = api.value(5);
      const tl = api.coord([x - BOX_HALF, q3]), br = api.coord([x + BOX_HALF, q1]);
      const ph = api.coord([x, hi]), pl = api.coord([x, lo]);
      const ml = api.coord([x - BOX_HALF, md]), mr = api.coord([x + BOX_HALF, md]);
      const st = {stroke:'#333', lineWidth:2.4};
      return {type:'group', children:[
        {type:'line', shape:{x1:ph[0], y1:ph[1], x2:ph[0], y2:tl[1]}, style:st},
        {type:'line', shape:{x1:pl[0], y1:br[1], x2:pl[0], y2:pl[1]}, style:st},
        {type:'rect', shape:{x:tl[0], y:tl[1], width:br[0]-tl[0], height:br[1]-tl[1]}, style:{fill:FILLS[params.dataIndex], stroke:'#333', lineWidth:2.4}},
        {type:'line', shape:{x1:ml[0], y1:ml[1], x2:mr[0], y2:mr[1]}, style:{stroke:'#333', lineWidth:4.5}}
      ]};
    }
  });
  const pd = [];
  p.pts.forEach((arr, g) => arr.forEach(q => pd.push([GROUP_POS[g] + q[0], q[1]])));
  series.push({type:'scatter', xAxisIndex:i, yAxisIndex:i, z:3, silent:true, symbol:'circle', symbolSize:7,
    itemStyle:{color:'#000', opacity:1}, data:pd});
  if (p.br) {
    const B = p.br, f = p.brF, lw = p.brW;
    series.push({
      type:'custom', xAxisIndex:i, yAxisIndex:i, z:4, silent:true, clip:false,
      encode:{x:[0,1], y:2},
      data:B.map(b => [b[0], b[1], b[2]]),
      renderItem:(params, api) => {
        const b = B[params.dataIndex];
        const a = api.coord([api.value(0), api.value(2)]), c = api.coord([api.value(1), api.value(2)]);
        return {type:'group', children:[
          {type:'line', shape:{x1:a[0], y1:a[1], x2:c[0], y2:c[1]}, style:{stroke:'#111', lineWidth:lw}},
          {type:'text', x:(a[0]+c[0])/2, y:a[1] - 1.5, style:{text:brText(b[3]), align:'center', verticalAlign:'bottom', textAlign:'center', textVerticalAlign:'bottom',
            fontSize:f, fontFamily:FONT, fill:'#111',
            rich:{n:{fontSize:f, fontFamily:FONT, fill:'#111', color:'#111'}, s:{fontSize:Math.round(f*0.7), fontFamily:FONT, fill:'#111', color:'#111', verticalAlign:'top'}}}}
        ]};
      }
    });
  }
  gfx.push({type:'rect', z:10, shape:{x:p.x, y:p.y - STRIP_H, width:p.w, height:STRIP_H}, style:{fill:'#fff', stroke:'#333', lineWidth:1.5}});
  gfx.push({type:'text', z:11, x:p.x + p.w/2, y:p.y - STRIP_H/2 + 2, style:{text:p.title, fontSize:16, fontFamily:FONT, fill:INK, align:'center', verticalAlign:'middle', textAlign:'center', textVerticalAlign:'middle'}});
});

// ---- panel c ----
const ci = PANELS.length;
const C = {x:899.7, y:459, w:171.6, h:665, ymin:2.07, ymax:33.34};
grids.push({left:C.x, top:C.y, width:C.w, height:C.h, show:true, borderColor:'#333', borderWidth:1.5, backgroundColor:'rgba(0,0,0,0)', containLabel:false, outerBoundsMode:'none'});
xAxes.push({type:'value', gridIndex:ci, min:0.4, max:1.6, splitLine:{show:false}, axisLine:{show:false}, axisTick:{show:false}, axisLabel:{show:false}});
yAxes.push({type:'value', gridIndex:ci, min:C.ymin, max:C.ymax, splitLine:{show:false}, axisLine:{show:false},
  axisTick:{show:true, customValues:TICKS_C, length:7, lineStyle:{color:'#333', width:1.3}},
  axisLabel:{show:true, customValues:TICKS_C, margin:13, fontSize:15, fontFamily:FONT, color:INK}});
series.push({
  type:'custom', xAxisIndex:ci, yAxisIndex:ci, z:2, silent:true, encode:{x:0, y:[1,2,3,4,5]},
  data:[[1].concat(cBox)],
  renderItem:(params, api) => {
    const half = 0.318;
    const x = api.value(0);
    const tl = api.coord([x - half, api.value(4)]), br = api.coord([x + half, api.value(2)]);
    const ph = api.coord([x, api.value(5)]), pl = api.coord([x, api.value(1)]);
    const ml = api.coord([x - half, api.value(3)]), mr = api.coord([x + half, api.value(3)]);
    const st = {stroke:'#D4D4D4', lineWidth:3};
    return {type:'group', children:[
      {type:'line', shape:{x1:ph[0], y1:ph[1], x2:ph[0], y2:tl[1]}, style:st},
      {type:'line', shape:{x1:pl[0], y1:br[1], x2:pl[0], y2:pl[1]}, style:st},
      {type:'rect', shape:{x:tl[0], y:tl[1], width:br[0]-tl[0], height:br[1]-tl[1]}, style:{fill:'rgba(0,0,0,0)', stroke:'#D4D4D4', lineWidth:3}},
      {type:'line', shape:{x1:ml[0], y1:ml[1], x2:mr[0], y2:mr[1]}, style:{stroke:'#D4D4D4', lineWidth:5}}
    ]};
  }
});
series.push({
  type:'scatter', xAxisIndex:ci, yAxisIndex:ci, z:3, silent:true, symbolSize:6.5, itemStyle:{color:'#000', opacity:1},
  data:cNames.map((n, k) => ({name:n, value:[cJitter[k], cValues[k]], label:{offset:cLabelOffset[k]}})),
  label:{show:true, position:'inside', formatter:'{b}', fontSize:10.5, fontFamily:FONT, color:'#000', textBorderWidth:0}
});
gfx.push({type:'rect', z:10, shape:{x:C.x, y:C.y - STRIP_H, width:C.w, height:STRIP_H}, style:{fill:'#fff', stroke:'#333', lineWidth:1.5}});
gfx.push({type:'text', z:11, x:975, y:C.y - STRIP_H/2 + 1, style:{text:'Known bNAbs', fontSize:16, fontFamily:FONT, fill:INK, align:'center', verticalAlign:'middle', textAlign:'center', textVerticalAlign:'middle'}});

// panel letters and y titles
[['a',20,18],['b',20,788],['c',838,415]].forEach(t => gfx.push({type:'text', z:11, x:t[1], y:t[2],
  style:{text:t[0], fontSize:18, fontWeight:'bold', fontFamily:FONT, fill:'#000', align:'left', verticalAlign:'middle', textAlign:'left', textVerticalAlign:'middle'}}));
[['Average SHM frequency (%)',20,371],['SHM frequency (99th percentile) (%)',20,1137],['Average SHM frequency (%)',845,792]].forEach(t => gfx.push({
  type:'text', z:11, x:t[1], y:t[2], rotation:Math.PI/2,
  style:{text:t[0], fontSize:16, fontFamily:FONT, fill:INK, align:'center', verticalAlign:'middle', textAlign:'center', textVerticalAlign:'middle'}}));

const chart = echarts.init(document.getElementById('c'), null, {renderer:'canvas'});
chart.setOption({
  animation:false, backgroundColor:'#fff',
  grid:grids, xAxis:xAxes, yAxis:yAxes, series:series,
  graphic:{elements:gfx}
});
</script></body></html>
